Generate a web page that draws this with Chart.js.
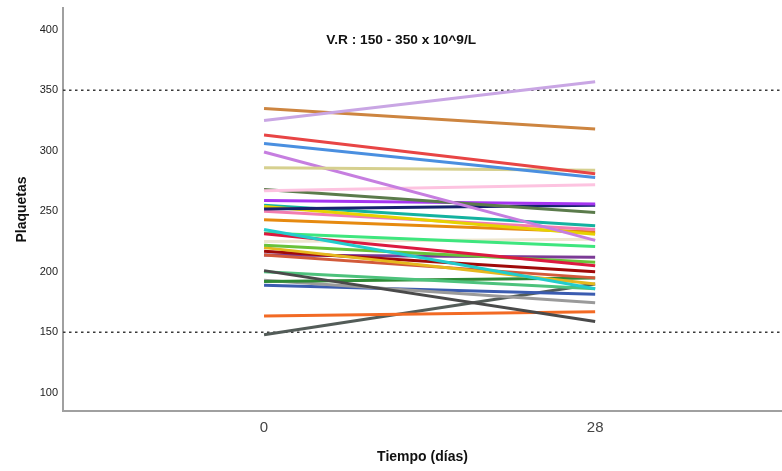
<!DOCTYPE html>
<html lang="es">
  <head>
    <meta charset="UTF-8" />
    <title>Plaquetas por tiempo</title>
    <style>
      body {
        margin: 0;
        background: #fff;
      }
      .chart-container {
        width: 782px;
        height: 471px;
      }
    </style>
  </head>
  <body>
    <div class="chart-container">
      <canvas id="plaquetas-chart"></canvas>
    </div>

    <script src="https://cdn.jsdelivr.net/npm/chart.js"></script>
    <script>
      // Valores (día 0 y día 28)
      const timeCategories = [0, 28];
      const day0 = [
        325, 335, 313, 306, 286, 299, 267, 268, 259, 252, 254, 255, 250, 243,
        235, 231.5, 232, 225, 222, 220, 217, 214, 214, 201, 200, 192, 193, 189,
        163.5, 148,
      ];
      const day28 = [
        357, 318, 281, 278, 284, 226, 272, 249, 256, 255, 231, 238, 235, 233,
        186, 205, 221, 227, 208, 190, 200, 195, 212, 159, 186, 195, 174.5,
        181.5, 167, 190,
      ];
      const lineColors = [
        "#c9a6e4", "#cd8540", "#e84545", "#4a8fe0", "#d6d08f", "#c67ee0",
        "#fdc3e0", "#5b7b4b", "#a435f0", "#16236e", "#e6d200", "#14b2a0",
        "#f27cb0", "#e68a10", "#22cccc", "#dc1a40", "#3ee67e", "#ede6cf",
        "#69c23a", "#e5b81e", "#a00a0a", "#d25a3a", "#7b3a96", "#4a4a4a",
        "#4dc27c", "#2f8a36", "#9a9a9a", "#3b5cb0", "#f26a24", "#535c58",
      ];
      const refLines = [150, 350];
      const yTickValues = [100, 150, 200, 250, 300, 350, 400];
      const xRange = [-17, 43.8];
      const yRange = [85, 418];
      const noteText = "V.R : 150 - 350 x 10^9/L";
      const notePos = { x: 11.6, y: 391 };

      const datasets = day0.map((v, i) => ({
        data: [
          { x: timeCategories[0], y: v },
          { x: timeCategories[1], y: day28[i] },
        ],
        borderColor: lineColors[i],
        borderWidth: 3,
        pointRadius: 0,
        tension: 0,
      }));

      refLines.forEach((v) => {
        datasets.push({
          data: [
            { x: xRange[0], y: v },
            { x: xRange[1], y: v },
          ],
          borderColor: "#3a3a3a",
          borderWidth: 1.5,
          borderDash: [2.5, 3.5],
          pointRadius: 0,
          order: 100,
        });
      });

      const notePlugin = {
        id: "note",
        afterDatasetsDraw(chart) {
          const ctx = chart.ctx;
          const xs = chart.scales.x;
          const ys = chart.scales.y;
          ctx.save();
          ctx.font = "bold 13.7px 'Liberation Sans', Arial, sans-serif";
          ctx.fillStyle = "#111";
          ctx.textAlign = "center";
          ctx.textBaseline = "middle";
          ctx.fillText(
            noteText,
            xs.getPixelForValue(notePos.x),
            ys.getPixelForValue(notePos.y)
          );
          ctx.restore();
        },
      };

      const chart = new Chart(document.getElementById("plaquetas-chart"), {
        type: "line",
        data: { datasets: datasets },
        plugins: [notePlugin],
        options: {
          responsive: true,
          maintainAspectRatio: false,
          animation: false,
          devicePixelRatio: 1,
          layout: { padding: { top: 8, right: 0, left: 0, bottom: 0 } },
          plugins: {
            legend: { display: false },
            tooltip: { enabled: false },
          },
          scales: {
            x: {
              type: "linear",
              min: xRange[0],
              max: xRange[1],
              afterBuildTicks: (scale) => {
                scale.ticks = timeCategories.map((v) => ({ value: v }));
              },
              afterFit: (scale) => {
                scale.height = 60;
                scale.paddingLeft = 0;
                scale.paddingRight = 0;
              },
              grid: { display: false, drawTicks: false, tickLength: 0 },
              border: { display: true, color: "#a0a0a0", width: 2 },
              ticks: {
                padding: 8,
                color: "#444",
                font: { family: "'Liberation Sans', Arial", size: 15 },
              },
              title: {
                display: true,
                text: "Tiempo (días)",
                color: "#111",
                padding: { top: 0, bottom: 5 },
                font: {
                  family: "'Liberation Sans', Arial",
                  size: 14,
                  weight: "bold",
                },
              },
            },
            y: {
              min: yRange[0],
              max: yRange[1],
              afterBuildTicks: (scale) => {
                scale.ticks = yTickValues.map((v) => ({ value: v }));
              },
              afterFit: (scale) => {
                scale.width = 63;
                scale.paddingTop = 0;
                scale.paddingBottom = 0;
              },
              grid: { display: false, drawTicks: false, tickLength: 0 },
              border: { display: true, color: "#a0a0a0", width: 2 },
              ticks: {
                padding: 5,
                color: "#222",
                font: { family: "'Liberation Sans', Arial", size: 11 },
              },
              title: {
                display: true,
                text: "Plaquetas",
                color: "#111",
                padding: { top: 14, bottom: 0 },
                font: {
                  family: "'Liberation Sans', Arial",
                  size: 14,
                  weight: "bold",
                },
              },
            },
          },
        },
      });
    </script>
  </body>
</html>
